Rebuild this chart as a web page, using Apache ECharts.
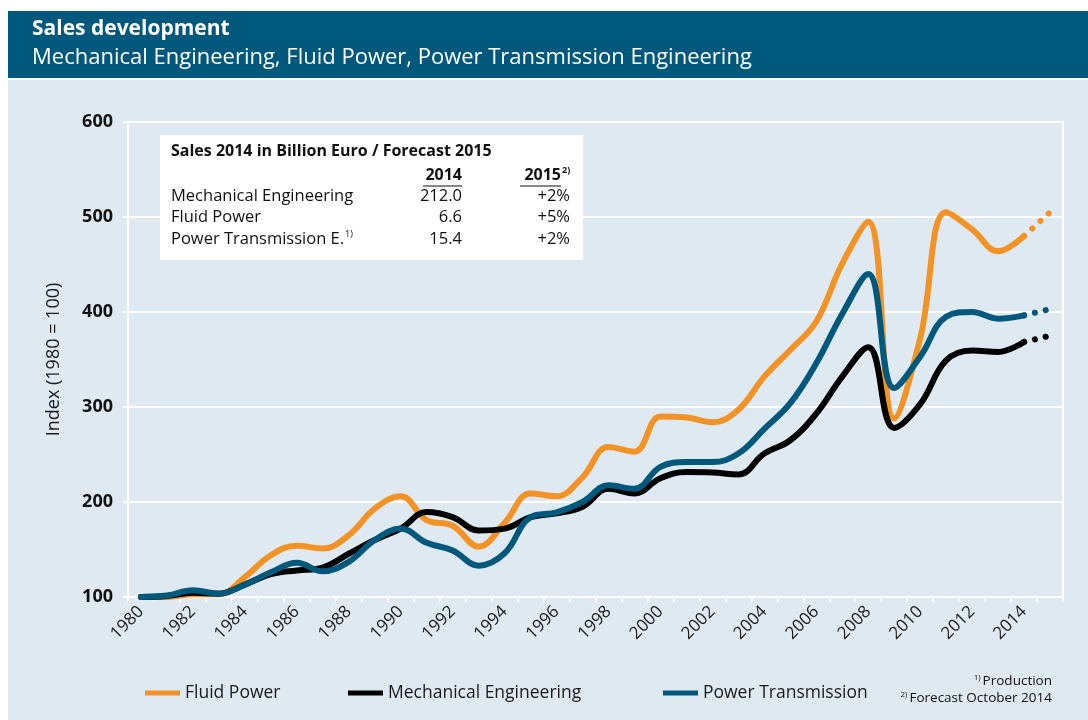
<!DOCTYPE html>
<html><head><meta charset="utf-8">
<script src="https://cdn.jsdelivr.net/npm/echarts@6/dist/echarts.min.js"></script>
<style>html,body{margin:0;padding:0;background:#fff}#c{width:1088px;height:720px}</style>
</head><body><div id="c"></div>
<script>
const years = ['1980','1981','1982','1983','1984','1985','1986','1987','1988','1989',
  '1990','1991','1992','1993','1994','1995','1996','1997','1998','1999',
  '2000','2001','2002','2003','2004','2005','2006','2007','2008','2009',
  '2010','2011','2012','2013','2014','2015'];
const yTicks = [100, 200, 300, 400, 500, 600];

// Index values 1980..2014 (1980 = 100)
const fluidPower = [100, 100, 103, 103, 121, 144, 154, 151, 165, 193,
  206, 181, 175, 153, 178, 209, 206, 226, 258, 253,
  290, 289, 284, 297, 332, 360, 390, 451, 495, 288,
  372, 505, 487, 464, 480];
const mechEng = [100, 101, 104.5, 103.5, 113, 124, 128, 131, 145.5, 160,
  172, 189.5, 184, 170, 172, 184, 188, 195, 214, 209,
  225, 231.5, 231, 229, 251, 265, 293, 332, 363, 278,
  303, 349, 359.5, 358, 368.5];
const powerTrans = [100, 101.5, 107, 103.5, 113, 126, 136, 127, 137, 160,
  172, 157, 149, 133, 146, 184, 189, 200, 217.5, 214,
  237, 242, 242, 251, 277, 304, 346, 398, 440, 320,
  353, 395, 400, 393, 396.5];
// Forecast 2015 values (dotted)
const fluidPower2015 = 505;
const mechEng2015 = 375;
const powerTrans2015 = 403;

const seriesNames = ['Fluid Power', 'Mechanical Engineering', 'Power Transmission'];
const colors = ['#f39325', '#000000', '#00587c'];

// table
const tableTitle = 'Sales 2014 in Billion Euro / Forecast 2015';
const tableRows = ['Mechanical Engineering', 'Fluid Power', 'Power Transmission E.'];
const sales2014 = ['212.0', '6.6', '15.4'];
const forecast2015 = ['+2%', '+5%', '+2%'];

function forecastData(series, f) {
  return years.map((y, i) => i === series.length - 1 ? series[i] : (i === series.length ? f : null));
}

const FONT = "'Open Sans', 'Noto Sans', sans-serif";
const chart = echarts.init(document.getElementById('c'), null, {renderer: 'canvas'});

function solid(name, data, color, z) {
  return {name, type: 'line', data, smooth: 0.4, symbol: 'none', z,
    lineStyle: {color, width: 6, cap: 'round', join: 'round'}, itemStyle: {color}};
}
function dotted(name, data, color, z) {
  return {name, type: 'line', data, symbol: 'none', z, connectNulls: false,
    lineStyle: {color, width: 6, cap: 'round', type: [0.1, 11]}, itemStyle: {color}};
}

const legendBase = {icon: 'rect', itemWidth: 35, itemHeight: 5, top: 679, selectedMode: false, itemGap: 7,
  textStyle: {fontFamily: FONT, fontSize: 17.5, color: '#1a1a1a'}};

const supRich = (fs, tfs, h, bold) => ({
  t: {fill: '#111', fontFamily: FONT, fontSize: tfs, lineHeight: h, height: h, verticalAlign: 'bottom'},
  s: {fill: '#111', fontFamily: FONT, fontSize: fs, fontWeight: bold ? 'bold' : 'normal',
      lineHeight: Math.round(h * 0.55), height: Math.round(h * 0.55), verticalAlign: 'top', padding: [0, 2, 0, 1]}
});

const option = {
  backgroundColor: '#dfe9f2',
  animation: false,
  grid: {left: 128, right: 25, top: 122, bottom: 123, show: true, borderColor: '#ffffff', borderWidth: 2},
  xAxis: {
    type: 'category', data: years, boundaryGap: true,
    axisLine: {lineStyle: {color: '#ffffff', width: 2}},
    axisTick: {show: true, interval: 0, length: 5, lineStyle: {color: '#ffffff', width: 2}},
    axisLabel: {interval: 1, rotate: 45, margin: 12, fontFamily: FONT, fontSize: 17, color: '#1a1a1a'},
    splitLine: {show: false}
  },
  yAxis: {
    type: 'value', min: yTicks[0], max: yTicks[yTicks.length - 1], interval: 100,
    name: 'Index (1980 = 100)', nameLocation: 'middle', nameGap: 65,
    nameTextStyle: {fontFamily: FONT, fontSize: 18, color: '#1a1a1a'},
    axisLine: {show: true, lineStyle: {color: '#ffffff', width: 2}},
    axisTick: {show: true, length: 5, lineStyle: {color: '#ffffff', width: 2}},
    axisLabel: {margin: 15, fontFamily: FONT, fontSize: 18, fontWeight: 'bold', color: '#111'},
    splitLine: {show: true, lineStyle: {color: '#ffffff', width: 2}}
  },
  legend: [
    Object.assign({}, legendBase, {data: [seriesNames[0]], left: 140}),
    Object.assign({}, legendBase, {data: [seriesNames[1]], left: 343}),
    Object.assign({}, legendBase, {data: [seriesNames[2]], left: 658})
  ],
  series: [
    solid(seriesNames[0], fluidPower, colors[0], 2),
    solid(seriesNames[1], mechEng, colors[1], 3),
    solid(seriesNames[2], powerTrans, colors[2], 4),
    dotted('Fluid Power forecast', forecastData(fluidPower, fluidPower2015), colors[0], 2),
    dotted('Mechanical Engineering forecast', forecastData(mechEng, mechEng2015), colors[1], 3),
    dotted('Power Transmission forecast', forecastData(powerTrans, powerTrans2015), colors[2], 4)
  ],
  graphic: [
    {type: 'rect', silent: true, z: 10, shape: {x: 0, y: 0, width: 1088, height: 80}, style: {fill: '#ffffff'}},
    {type: 'rect', silent: true, z: 10, shape: {x: 0, y: 0, width: 8, height: 720}, style: {fill: '#ffffff'}},
    {type: 'rect', silent: true, z: 11, shape: {x: 8, y: 11, width: 1080, height: 67}, style: {fill: '#00587c'}},
    {type: 'text', silent: true, z: 12, x: 32, y: 29,
      style: {text: 'Sales development', fill: '#fff', font: "bold 21px 'Open Sans', sans-serif", verticalAlign: 'middle'}},
    {type: 'text', silent: true, z: 12, x: 32, y: 58,
      style: {text: 'Mechanical Engineering, Fluid Power, Power Transmission Engineering', fill: '#fff', font: "22px 'Open Sans', sans-serif", verticalAlign: 'middle'}},
    // table box
    {type: 'rect', silent: true, z: 20, shape: {x: 160, y: 135, width: 423, height: 125}, style: {fill: '#ffffff'}},
    {type: 'text', silent: true, z: 21, x: 171, y: 151,
      style: {text: tableTitle, fill: '#111', font: "bold 16px 'Open Sans', sans-serif", verticalAlign: 'middle'}},
    {type: 'text', silent: true, z: 21, x: 462, y: 175,
      style: {text: '2014', fill: '#111', font: "bold 16px 'Open Sans', sans-serif", align: 'right', verticalAlign: 'middle'}},
    {type: 'text', silent: true, z: 21, x: 561, y: 175,
      style: {text: '2015', fill: '#111', font: "bold 16px 'Open Sans', sans-serif", align: 'right', verticalAlign: 'middle'}},
    {type: 'text', silent: true, z: 21, x: 562, y: 170,
      style: {text: '2)', fill: '#111', font: "bold 9px 'Open Sans', sans-serif", align: 'left', verticalAlign: 'middle'}},
    {type: 'line', silent: true, z: 21, shape: {x1: 423, y1: 186, x2: 462, y2: 186}, style: {stroke: '#111', lineWidth: 1.2}},
    {type: 'line', silent: true, z: 21, shape: {x1: 520, y1: 186, x2: 561, y2: 186}, style: {stroke: '#111', lineWidth: 1.2}},
  ].concat(tableRows.map((r, i) => ({
    type: 'text', silent: true, z: 21, x: 171, y: 196 + i * 21.5,
    style: {text: '{t|' + r + '}' + (i === 2 ? '{s|1)}' : ''), verticalAlign: 'middle', rich: supRich(9, 16.5, 20)}
  }))).concat(sales2014.map((v, i) => ({
    type: 'text', silent: true, z: 21, x: 462, y: 196 + i * 21.5,
    style: {text: v, fill: '#111', font: "16.5px 'Open Sans', sans-serif", align: 'right', verticalAlign: 'middle'}
  }))).concat(forecast2015.map((v, i) => ({
    type: 'text', silent: true, z: 21, x: 570, y: 196 + i * 21.5,
    style: {text: v, fill: '#111', font: "16.5px 'Open Sans', sans-serif", align: 'right', verticalAlign: 'middle'}
  }))).concat([
    {type: 'text', silent: true, z: 21, x: 1052, y: 681,
      style: {text: '{s|1)}{t|Production}', align: 'right', verticalAlign: 'middle', rich: supRich(8, 13.5, 16)}},
    {type: 'text', silent: true, z: 21, x: 1052, y: 698,
      style: {text: '{s|2)}{t|Forecast October 2014}', align: 'right', verticalAlign: 'middle', rich: supRich(8, 13.5, 16)}}
  ])
};
chart.setOption(option);
</script></body></html>
